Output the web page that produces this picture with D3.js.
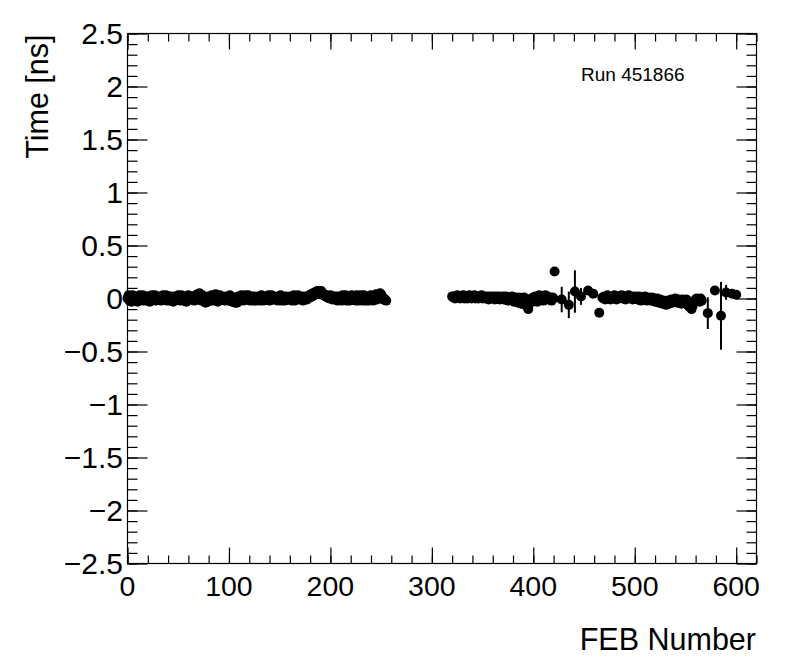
<!DOCTYPE html>
<html>
<head>
<meta charset="utf-8">
<script src="https://cdn.jsdelivr.net/npm/d3@7"></script>
<style>
  html, body { margin: 0; padding: 0; background: #fff; }
  svg { display: block; font-family: "Liberation Sans", Arial, Helvetica, sans-serif; }
</style>
</head>
<body>
<svg id="chart" width="796" height="672"></svg>
<script>
// ---------------- data ----------------
const runLabel = "Run 451866";
const xTitle = "FEB Number";
const yTitle = "Time [ns]";
const xTickValues = [0, 100, 200, 300, 400, 500, 600];
const yTickValues = [-2.5, -2, -1.5, -1, -0.5, 0, 0.5, 1, 1.5, 2, 2.5];

// FEBs 0..255
const band1Start = 0;
const band1Values = [
  0.00, 0.03, -0.02, 0.01, -0.03, 0.03, 0.00, -0.02, 0.02, 0.01, -0.03, 0.00, 0.03, -0.01, 0.01, 0.03,
  -0.02, 0.00, 0.02, -0.02, 0.02, 0.00, -0.03, 0.01, 0.03, -0.01, 0.00, 0.03, -0.02, 0.01, 0.00, 0.02,
  0.01, -0.02, 0.00, 0.03, -0.01, 0.01, 0.03, -0.02, 0.00, 0.02, -0.02, 0.02, 0.00, -0.03, 0.01, 0.02,
  -0.01, 0.00, 0.03, 0.01, -0.02, 0.03, 0.00, -0.02, 0.02, 0.01, -0.03, 0.01, 0.03, 0.00, -0.01, 0.02,
  0.00, 0.01, -0.02, 0.03, 0.02, 0.04, 0.01, 0.05, 0.02, -0.02, 0.03, 0.00, -0.03, -0.04, 0.01, -0.03,
  0.02, 0.00, -0.02, 0.03, 0.01, -0.02, 0.02, 0.04, 0.00, -0.03, 0.01, 0.03, -0.01, 0.02, 0.00, 0.01,
  -0.02, 0.02, 0.00, 0.01, -0.02, 0.03, 0.00, -0.03, 0.01, -0.03, -0.04, 0.00, -0.04, 0.02, -0.01, 0.01,
  0.03, 0.00, -0.02, 0.01, 0.03, -0.01, 0.00, 0.03, 0.01, -0.02, 0.02, 0.00, -0.02, 0.02, 0.01, -0.02,
  0.00, 0.02, 0.01, -0.02, 0.03, 0.00, -0.02, 0.01, 0.02, -0.01, 0.00, 0.03, -0.02, 0.01, 0.03, 0.00,
  -0.01, 0.02, 0.00, 0.01, -0.02, 0.02, 0.00, 0.03, -0.02, 0.01, 0.00, -0.02, 0.02, 0.01, -0.01, 0.00,
  0.02, 0.00, -0.02, 0.01, 0.03, -0.02, 0.00, 0.01, 0.03, 0.00, -0.01, 0.02, 0.01, -0.02, 0.02, 0.00,
  0.01, -0.01, 0.02, 0.03, 0.01, 0.04, 0.02, 0.05, 0.03, 0.06, 0.04, 0.07, 0.05, 0.06, 0.04, 0.07,
  0.05, 0.03, 0.04, 0.02, 0.03, 0.01, 0.02, 0.00, 0.03, 0.01, -0.01, 0.02, 0.00, 0.02, 0.01, -0.02,
  0.02, 0.00, 0.01, -0.02, 0.03, 0.00, 0.01, 0.03, -0.02, 0.01, 0.00, -0.02, 0.01, 0.03, -0.01, 0.00,
  0.02, -0.02, 0.03, 0.00, -0.02, 0.01, 0.03, 0.00, -0.02, 0.03, 0.01, -0.02, 0.02, 0.00, -0.02, 0.01,
  0.03, 0.00, -0.02, 0.02, 0.01, 0.04, -0.01, 0.02, 0.03, 0.05, 0.04, 0.02, -0.01, 0.00, -0.01, -0.02
];

// FEBs 320..420
const band2Start = 320;
const band2Values = [
  0.02, 0.01, 0.02, 0.00, 0.01, 0.03, 0.01, 0.02, 0.00, 0.02, 0.01, 0.03, 0.00, 0.02, 0.01, 0.00,
  0.02, 0.03, 0.01, 0.00, 0.02, 0.01, 0.03, 0.00, 0.01, 0.02, 0.00, 0.02, 0.01, 0.03, 0.00, 0.02,
  0.01, 0.00, 0.02, 0.01, -0.01, 0.02, 0.00, 0.01, 0.02, 0.00, -0.01, 0.02, 0.01, 0.00, 0.02, -0.01,
  0.00, 0.01, 0.02, -0.01, 0.00, 0.02, 0.01, -0.02, 0.00, 0.01, -0.01, 0.02, 0.00, -0.03, 0.01, -0.02,
  0.00, -0.04, 0.01, -0.02, -0.05, 0.00, -0.03, 0.01, -0.06, -0.02, -0.04, -0.10, -0.05, -0.02, 0.00, -0.03,
  0.01, -0.02, 0.02, 0.00, -0.03, 0.01, 0.03, -0.01, 0.02, 0.00, -0.02, 0.01, 0.03, 0.00, 0.02, -0.01,
  0.01, 0.00, -0.02, 0.01, 0.00
];

// isolated FEBs 421..465
const sparseFeb  = [421, 428, 435, 441, 447, 454, 459, 465];
const sparseTime = [0.255, -0.01, -0.06, 0.066, 0.02, 0.075, 0.045, -0.135];
const sparseErr  = [0.01, 0.12, 0.125, 0.20, 0.08, 0.02, 0.02, 0.02];

// FEBs 468..566
const band3Start = 468;
const band3Values = [
  0.01, 0.00, 0.02, -0.01, 0.01, 0.03, 0.00, 0.02, -0.01, 0.01, 0.02, 0.00, 0.03, 0.01, -0.01, 0.02,
  0.00, 0.02, 0.01, 0.03, 0.00, 0.01, 0.02, -0.01, 0.02, 0.00, 0.03, 0.01, 0.00, 0.02, -0.01, 0.01,
  0.02, 0.00, 0.01, -0.01, 0.02, 0.00, -0.02, 0.01, 0.00, -0.01, 0.02, 0.00, -0.02, 0.01, -0.01, 0.00,
  -0.02, 0.01, -0.01, 0.00, -0.03, -0.01, 0.00, -0.02, -0.04, -0.01, -0.03, -0.05, -0.02, -0.04, -0.03, -0.06,
  -0.04, -0.02, -0.05, -0.03, -0.01, -0.04, -0.02, -0.03, 0.00, -0.02, -0.04, -0.01, -0.03, -0.02, -0.05, -0.01,
  -0.03, -0.02, -0.04, -0.01, -0.06, -0.03, -0.08, -0.05, -0.10, -0.07, -0.04, -0.02, -0.01, 0.00, -0.02, -0.01,
  -0.03, 0.00, -0.02
];

// isolated FEBs at the end
const tailFeb  = [572, 579, 585, 590, 596, 600];
const tailTime = [-0.138, 0.075, -0.163, 0.057, 0.045, 0.035];
const tailErr  = [0.15, 0.03, 0.32, 0.07, 0.03, 0.02];

// ---------------- build points ----------------
const points = [];
band1Values.forEach((v, i) => points.push({ x: band1Start + i, y: v, e: 0 }));
band2Values.forEach((v, i) => points.push({ x: band2Start + i, y: v, e: 0 }));
sparseFeb.forEach((f, i) => points.push({ x: f, y: sparseTime[i], e: sparseErr[i] }));
band3Values.forEach((v, i) => points.push({ x: band3Start + i, y: v, e: 0 }));
tailFeb.forEach((f, i) => points.push({ x: f, y: tailTime[i], e: tailErr[i] }));

// ---------------- layout ----------------
const svg = d3.select("#chart");
const L = 127.5, R = 756.5, T = 33.5, B = 563.5;
const x = d3.scaleLinear().domain([0, 620]).range([L, R]);
const y = d3.scaleLinear().domain([-2.5, 2.5]).range([B, T]);

const font = '"Liberation Sans", Arial, Helvetica, sans-serif';
const minus = s => s.replace("-", "\u2212");

const xMinor = d3.range(0, 621, 20);
const yMinor = d3.range(-25, 26, 1).map(d => d / 10);

function tickAxis(axisFn, scale, vals, size, transform) {
  const g = svg.append("g").attr("transform", transform)
    .call(axisFn(scale).tickValues(vals).tickSize(size).tickFormat(""));
  g.select(".domain").remove();
  g.selectAll(".tick line").attr("stroke", "#000").attr("stroke-width", 1.2);
  return g;
}
tickAxis(d3.axisTop, x, xMinor, 8, `translate(0,${B})`);
tickAxis(d3.axisTop, x, xTickValues, 16, `translate(0,${B})`);
tickAxis(d3.axisBottom, x, xMinor, 8, `translate(0,${T})`);
tickAxis(d3.axisBottom, x, xTickValues, 16, `translate(0,${T})`);
tickAxis(d3.axisRight, y, yMinor, 10, `translate(${L},0)`);
tickAxis(d3.axisRight, y, yTickValues, 20, `translate(${L},0)`);
tickAxis(d3.axisLeft, y, yMinor, 10, `translate(${R},0)`);
tickAxis(d3.axisLeft, y, yTickValues, 20, `translate(${R},0)`);

svg.append("rect").attr("x", L).attr("y", T).attr("width", R - L).attr("height", B - T)
  .attr("fill", "none").attr("stroke", "#000").attr("stroke-width", 1.2);

// tick labels
svg.append("g").selectAll("text").data(xTickValues).join("text")
  .attr("x", d => x(d)).attr("y", 596)
  .attr("text-anchor", "middle").attr("font-size", 28.5).attr("font-family", font)
  .text(d => minus(String(d)));
svg.append("g").selectAll("text").data(yTickValues).join("text")
  .attr("x", 123).attr("y", d => y(d) + 10.5)
  .attr("text-anchor", "end").attr("font-size", 30).attr("font-family", font)
  .text(d => minus(String(d)));

// axis titles
svg.append("text").attr("x", 756).attr("y", 650).attr("text-anchor", "end")
  .attr("font-size", 30.5).attr("font-family", font).text(xTitle);
svg.append("text").attr("transform", `translate(48,${T + 1}) rotate(-90)`)
  .attr("text-anchor", "end").attr("font-size", 30.5).attr("font-family", font).text(yTitle);

svg.append("text").attr("x", 581).attr("y", 81).attr("font-size", 19)
  .attr("font-family", font).text(runLabel);

// data: error bars then markers
const dg = svg.append("g");
dg.selectAll("line.err").data(points.filter(p => p.e > 0)).join("line")
  .attr("class", "err")
  .attr("x1", d => x(d.x)).attr("x2", d => x(d.x))
  .attr("y1", d => y(d.y + d.e)).attr("y2", d => y(d.y - d.e))
  .attr("stroke", "#000").attr("stroke-width", 2);
dg.selectAll("circle").data(points).join("circle")
  .attr("cx", d => x(d.x)).attr("cy", d => y(d.y)).attr("r", 5)
  .attr("fill", "#000");
</script>
</body>
</html>
